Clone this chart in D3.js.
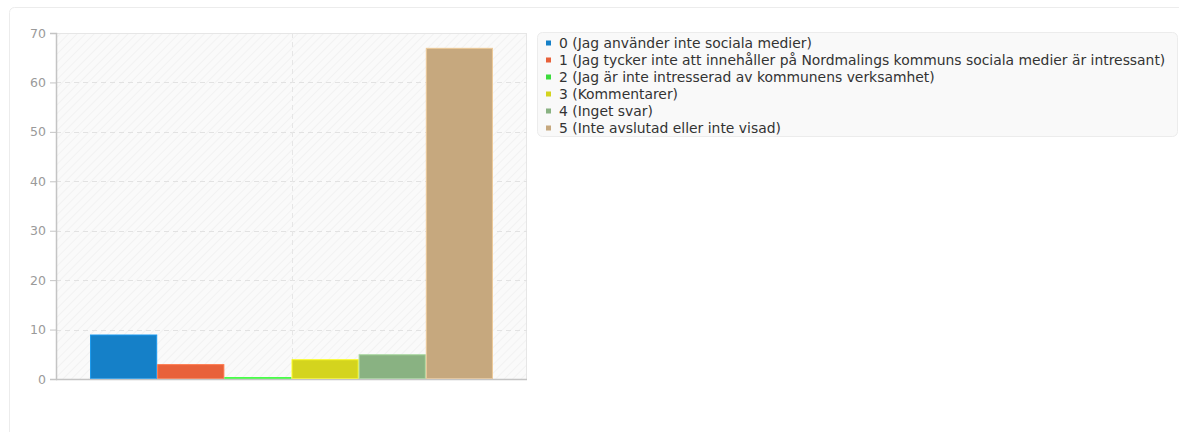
<!DOCTYPE html>
<html><head><meta charset="utf-8">
<script src="https://cdn.jsdelivr.net/npm/d3@7"></script>
<style>
html,body{margin:0;padding:0;background:#fff;}
svg{display:block;font-family:"DejaVu Sans",sans-serif;}
</style></head>
<body>
<svg id="chart" width="1179" height="432"></svg>
<script>
const categories = ["0","1","2","3","4","5"];
const labels = [
  "0 (Jag använder inte sociala medier)",
  "1 (Jag tycker inte att innehåller på Nordmalings kommuns sociala medier är intressant)",
  "2 (Jag är inte intresserad av kommunens verksamhet)",
  "3 (Kommentarer)",
  "4 (Inget svar)",
  "5 (Inte avslutad eller inte visad)"
];
const values = [9, 3, 0, 4, 5, 67];
const colors = ["#1580c8", "#e8613a", "#3cdc3c", "#d4d41e", "#89b282", "#c6a87e"];
const yTicks = [0, 10, 20, 30, 40, 50, 60, 70];

const svg = d3.select("#chart");
const defs = svg.append("defs");
const pat = defs.append("pattern").attr("id","hatch").attr("patternUnits","userSpaceOnUse")
  .attr("width",6).attr("height",6).attr("patternTransform","rotate(45)");
pat.append("rect").attr("width",6).attr("height",6).attr("fill","#fafafa");
pat.append("line").attr("x1",0).attr("y1",0).attr("x2",0).attr("y2",6).attr("stroke","#f2f2f2").attr("stroke-width",2);

// outer container
svg.append("rect").attr("x",9.5).attr("y",7.5).attr("width",1200).attr("height",450).attr("rx",5)
  .attr("fill","#fff").attr("stroke","#ececec");

const L = 56, R = 527, T = 33, B = 379;
const y = d3.scaleLinear().domain([0,70]).range([B,T]);
const outer = d3.scaleBand().domain(["all"]).range([L,R]).paddingInner(0).paddingOuter(0.0845);
const x = d3.scaleBand().domain(categories).range([outer("all"), outer("all")+outer.bandwidth()]).padding(0);

svg.append("rect").attr("x",L).attr("y",T).attr("width",R-L).attr("height",B-T).attr("fill","url(#hatch)");
svg.append("line").attr("x1",L).attr("x2",R).attr("y1",T+0.5).attr("y2",T+0.5).attr("stroke","#e6e6e6");
svg.append("line").attr("x1",R-0.5).attr("x2",R-0.5).attr("y1",T).attr("y2",B).attr("stroke","#e6e6e6");

// grid
const grid = svg.append("g");
grid.selectAll("line.h").data(yTicks.filter(d=>d>0 && d<70)).join("line").attr("class","h")
  .attr("x1",L).attr("x2",R).attr("y1",d=>Math.round(y(d))+0.5).attr("y2",d=>Math.round(y(d))+0.5)
  .attr("stroke","#e2e2e2").attr("stroke-dasharray","5,4");
const cx = outer("all") + outer.bandwidth()/2;
grid.append("line").attr("x1",Math.round(cx)+0.5).attr("x2",Math.round(cx)+0.5).attr("y1",T).attr("y2",B)
  .attr("stroke","#e6e6e6").attr("stroke-dasharray","5,4");

// bars
svg.append("g").selectAll("rect").data(values).join("rect")
  .attr("x",(d,i)=>x(categories[i])+0.5)
  .attr("y",d=>Math.min(y(d), B-2)+0.5)
  .attr("width",x.bandwidth()-1)
  .attr("height",d=>Math.max(1, B-y(d)-1))
  .attr("fill",(d,i)=>colors[i])
  .attr("stroke",(d,i)=>d3.color(colors[i]).brighter(0.5))
  .attr("stroke-width",1);

// axes
const yAxis = svg.append("g").attr("transform",`translate(${L},0)`)
  .call(d3.axisLeft(y).tickValues(yTicks).tickSize(6).tickPadding(4));
yAxis.select(".domain").attr("stroke","#c4c4c4").attr("stroke-width",1.5);
yAxis.selectAll(".tick line").attr("stroke","#c4c4c4");
yAxis.selectAll(".tick text").attr("fill","#9a9a9a").attr("font-size",12.5).attr("font-family","DejaVu Sans, sans-serif");
svg.append("line").attr("x1",L).attr("x2",R).attr("y1",B+0.5).attr("y2",B+0.5).attr("stroke","#c4c4c4").attr("stroke-width",1.5);

// legend
const lg = svg.append("g");
lg.append("rect").attr("x",537.5).attr("y",32.5).attr("width",640).attr("height",104).attr("rx",5)
  .attr("fill","#f9f9f9").attr("stroke","#ececec");
const rows = lg.selectAll("g.item").data(labels).join("g").attr("class","item")
  .attr("transform",(d,i)=>`translate(546,${43 + i*17})`);
rows.append("rect").attr("x",0).attr("y",-2.5).attr("width",5).attr("height",5).attr("fill",(d,i)=>colors[i]);
rows.append("text").attr("x",13).attr("y",0).attr("dy","0.35em").attr("font-size",13.9)
  .attr("fill","#333").text(d=>d);
</script>
</body></html>
